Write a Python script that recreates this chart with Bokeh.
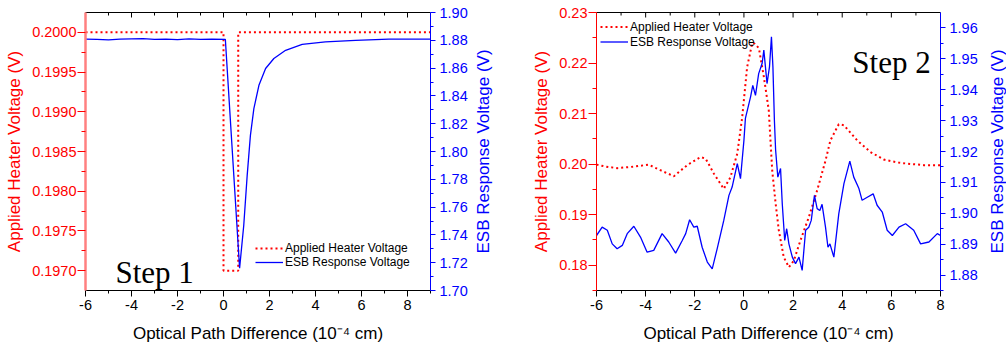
import math
from bokeh.plotting import figure
from bokeh.models import (Range1d, LinearAxis, FixedTicker, PrintfTickFormatter,
                          Legend, LegendItem, Label)
from bokeh.layouts import row
from bokeh.embed import file_html
from bokeh.resources import INLINE

# ---------------- data ----------------
# Step 1
s1_heater_x = [-6.0, 0.0, 0.0, 0.64, 0.64, 9.0]
s1_heater_v = [0.2000, 0.2000, 0.1970, 0.1970, 0.2000, 0.2000]
s1_esb_x = [-6.0, -5.5, -5.0, -4.5, -4.0, -3.5, -3.0, -2.5, -2.0, -1.5, -1.0, -0.5, 0.08,
            0.70, 0.88, 1.03, 1.17, 1.32, 1.54, 1.83, 2.19, 2.70, 3.42, 4.43, 5.74, 7.19, 9.0]
s1_esb_v = [1.8808, 1.8806, 1.8803, 1.8808, 1.8810, 1.8812, 1.8806, 1.8808, 1.8805, 1.8810, 1.8806, 1.8808, 1.8807,
            1.7160, 1.7468, 1.7828, 1.8116, 1.8309, 1.8476, 1.8597, 1.8669, 1.8728, 1.8770, 1.8788, 1.8800, 1.8808, 1.8808]

# Step 2
s2_heater_x = [-6.0, -5.6, -5.16, -4.5, -3.88, -3.4, -2.85, -2.31, -1.77, -1.56, -1.22, -0.82, -0.55, -0.27,
               -0.07, 0.13, 0.34, 0.45, 0.61, 0.81, 1.01, 1.15, 1.29, 1.42, 1.62, 1.83, 2.03, 2.30, 2.64,
               2.98, 3.32, 3.52, 3.86, 4.07, 4.61, 5.15, 5.69, 6.30, 6.65, 7.32, 8.0]
s2_heater_v = [0.1999, 0.1995, 0.1992, 0.1995, 0.1999, 0.1988, 0.1976, 0.1998, 0.2014, 0.2011, 0.1981, 0.1951, 0.1974, 0.2021,
               0.2093, 0.2192, 0.2240, 0.2238, 0.2229, 0.2173, 0.2107, 0.1988, 0.1922, 0.1869, 0.1816, 0.1796, 0.1809, 0.1849, 0.1895,
               0.1948, 0.2007, 0.2047, 0.2079, 0.2077, 0.2047, 0.2024, 0.2009, 0.2003, 0.2001, 0.1998, 0.1998]
s2_esb_x = [-6.0, -5.77, -5.56, -5.36, -5.16, -4.95, -4.75, -4.48, -4.21, -3.94, -3.67, -3.33, -3.06, -2.78, -2.51,
            -2.37, -2.21, -2.04, -1.90, -1.70, -1.49, -1.29, -1.09, -0.82, -0.61, -0.48, -0.27, -0.14, 0.0, 0.06,
            0.27, 0.36, 0.47, 0.60, 0.74, 0.81, 0.94, 1.04, 1.12, 1.18, 1.24, 1.29, 1.38, 1.49, 1.56, 1.66, 1.74,
            1.83, 1.97, 2.10, 2.24, 2.37, 2.51, 2.64, 2.74, 2.87, 2.98, 3.09, 3.18, 3.32, 3.42, 3.50, 3.66, 3.86,
            4.07, 4.31, 4.47, 4.68, 4.81, 5.02, 5.26, 5.42, 5.63, 5.83, 6.04, 6.31, 6.58, 6.91, 7.19, 7.53, 7.87, 8.0]
s2_esb_v = [1.8928, 1.8955, 1.8945, 1.8901, 1.8885, 1.8896, 1.8934, 1.8958, 1.8923, 1.8874, 1.8880, 1.8934, 1.8907, 1.8871, 1.8912,
            1.8934, 1.8979, 1.8955, 1.8958, 1.8890, 1.8842, 1.8820, 1.8885, 1.8977, 1.9058, 1.9085, 1.9161, 1.9112, 1.9236, 1.9307,
            1.9377, 1.9414, 1.9382, 1.9452, 1.9485, 1.9528, 1.9420, 1.9474, 1.9571, 1.9474, 1.9301, 1.9204, 1.9117, 1.9145, 1.9031, 1.8912, 1.8950,
            1.8901, 1.8858, 1.8837, 1.8858, 1.8815, 1.8945, 1.8955, 1.8977, 1.9058, 1.9015, 1.9009, 1.9029, 1.8955, 1.8890, 1.8901, 1.8858, 1.8998,
            1.9096, 1.9169, 1.9117, 1.9080, 1.9042, 1.9052, 1.9063, 1.9026, 1.9004, 1.8945, 1.8928, 1.8955, 1.8966, 1.8945, 1.8901, 1.8907, 1.8934, 1.8928]

x_major = [-6, -4, -2, 0, 2, 4, 6, 8]
x_minor = [-5, -3, -1, 1, 3, 5, 7, 9]
s1_left_major = [0.1970, 0.1975, 0.1980, 0.1985, 0.1990, 0.1995, 0.2000]
s1_left_minor = [0.19725, 0.19775, 0.19825, 0.19875, 0.19925, 0.19975]
s1_right_major = [1.70, 1.72, 1.74, 1.76, 1.78, 1.80, 1.82, 1.84, 1.86, 1.88, 1.90]
s1_right_minor = [1.71, 1.73, 1.75, 1.77, 1.79, 1.81, 1.83, 1.85, 1.87, 1.89]
s2_left_major = [0.18, 0.19, 0.20, 0.21, 0.22, 0.23]
s2_left_minor = [0.175, 0.185, 0.195, 0.205, 0.215, 0.225]
s2_right_major = [1.88, 1.89, 1.90, 1.91, 1.92, 1.93, 1.94, 1.95, 1.96]
s2_right_minor = [1.875, 1.885, 1.895, 1.905, 1.915, 1.925, 1.935, 1.945, 1.955]

RED = "#FF0000"
BLUE = "#0000FF"
SANS = "Liberation Sans"
SERIF = "Liberation Serif"
TICK_FS = "14.5px"
LABEL_FS = "17px"
HEIGHT = 347
TOP = 12
BOTTOM = 57
FRAME_H = HEIGHT - TOP - BOTTOM


def style_axis(ax, color, line_color=None, line_width=1, tick_out=7, minor_out=4):
    ax.axis_line_color = line_color or color
    ax.axis_line_width = line_width
    ax.major_tick_line_color = color
    ax.minor_tick_line_color = color
    ax.major_tick_out = tick_out
    ax.major_tick_in = 0
    ax.minor_tick_out = minor_out
    ax.minor_tick_in = 0
    ax.major_label_text_color = color
    ax.major_label_text_font = SANS
    ax.major_label_text_font_size = TICK_FS
    ax.axis_label_text_color = color
    ax.axis_label_text_font = SANS
    ax.axis_label_text_font_size = LABEL_FS
    ax.axis_label_text_font_style = "normal"


def panel(width, bl, br, xr, yr, yr2, lmaj, lmin, lfmt, rmaj, rmin, rfmt,
          hx, hv, ex, ev, left_line_color, left_line_width):
    p = figure(width=width, height=HEIGHT, x_range=Range1d(*xr), y_range=Range1d(*yr),
               output_backend="svg", toolbar_location=None,
               min_border_left=bl, min_border_right=br, min_border_top=TOP, min_border_bottom=BOTTOM,
               outline_line_color=None, background_fill_color="white", border_fill_color="white")
    p.grid.visible = False
    p.extra_y_ranges = {"esb": Range1d(*yr2)}

    xa = p.xaxis[0]
    style_axis(xa, "black", tick_out=6, minor_out=3)
    xa.ticker = FixedTicker(ticks=x_major, minor_ticks=x_minor)
    xa.formatter = PrintfTickFormatter(format="%d")
    xa.axis_label = "Optical Path Difference (10\u207b\u2074 cm)"
    xa.major_label_standoff = 3
    xa.axis_label_standoff = 11

    ya = p.yaxis[0]
    style_axis(ya, RED, line_color=left_line_color, line_width=left_line_width, tick_out=8, minor_out=4)
    ya.ticker = FixedTicker(ticks=lmaj, minor_ticks=lmin)
    ya.formatter = PrintfTickFormatter(format=lfmt)
    ya.axis_label = "Applied Heater Voltage (V)"
    ya.major_label_standoff = 1
    ya.axis_label_standoff = 5

    ra = LinearAxis(y_range_name="esb")
    style_axis(ra, BLUE, tick_out=5, minor_out=3)
    ra.ticker = FixedTicker(ticks=rmaj, minor_ticks=rmin)
    ra.formatter = PrintfTickFormatter(format=rfmt)
    ra.major_label_standoff = 4
    p.add_layout(ra, "right")

    # top frame line (no ticks / labels); inward ticks drawn below
    ta = LinearAxis(ticker=FixedTicker(ticks=[], minor_ticks=[]))
    ta.axis_line_color = "black"
    ta.major_tick_out = 0
    ta.minor_tick_out = 0
    ta.major_label_standoff = 0
    p.add_layout(ta, "above")

    dy = (yr[1] - yr[0]) / FRAME_H
    top_major = [t for t in x_major if xr[0] <= t <= xr[1]]
    top_minor = [t for t in x_minor if xr[0] <= t <= xr[1]]
    p.segment(x0=top_major, y0=[yr[1]] * len(top_major), x1=top_major,
              y1=[yr[1] - 5 * dy] * len(top_major), line_color="black", line_width=1)
    p.segment(x0=top_minor, y0=[yr[1]] * len(top_minor), x1=top_minor,
              y1=[yr[1] - 3 * dy] * len(top_minor), line_color="black", line_width=1)

    r1 = p.line(hx, hv, line_color=RED, line_width=2, line_dash="2 3")
    r2 = p.line(ex, ev, line_color=BLUE, line_width=1.3, y_range_name="esb")
    return p, r1, r2


def title_strip(width, text, standoff):
    """Narrow strip whose left-axis title is the right-hand (blue) axis title,
    so that it reads bottom-to-top like the reference."""
    s = figure(width=width, height=HEIGHT, x_range=Range1d(0, 1), y_range=Range1d(0, 1),
               output_backend="svg", toolbar_location=None,
               min_border_left=width - 1, min_border_right=0, min_border_top=TOP, min_border_bottom=BOTTOM,
               outline_line_color=None, background_fill_color="white", border_fill_color="white")
    s.grid.visible = False
    s.xaxis.visible = False
    ax = s.yaxis[0]
    ax.ticker = FixedTicker(ticks=[], minor_ticks=[])
    ax.axis_line_color = None
    ax.major_tick_out = 0
    ax.minor_tick_out = 0
    ax.major_label_standoff = 0
    ax.axis_label = text
    ax.axis_label_standoff = standoff
    ax.axis_label_text_color = BLUE
    ax.axis_label_text_font = SANS
    ax.axis_label_text_font_size = LABEL_FS
    ax.axis_label_text_font_style = "normal"
    return s


p1, h1, e1 = panel(471, 85, 41, (-6, 9), (0.19675, 0.20025), (1.70, 1.90),
                   s1_left_major, s1_left_minor, "%.4f", s1_right_major, s1_right_minor, "%.2f",
                   s1_heater_x, s1_heater_v, s1_esb_x, s1_esb_v, "#FF8080", 2.5)
p2, h2, e2 = panel(490, 101, 45, (-6, 8), (0.175, 0.23), (1.875, 1.965),
                   s2_left_major, s2_left_minor, "%.2f", s2_right_major, s2_right_minor, "%.2f",
                   s2_heater_x, s2_heater_v, s2_esb_x, s2_esb_v, RED, 1)
t1 = title_strip(24, "ESB Response Voltage (V)", 3)
t2 = title_strip(21, "ESB Response Voltage (V)", 0)


def add_legend(p, h, e, loc, row_h):
    lg = Legend(items=[LegendItem(label="Applied Heater Voltage", renderers=[h]),
                       LegendItem(label="ESB Response Voltage", renderers=[e])],
                location=loc, border_line_color=None, background_fill_alpha=0,
                padding=0, margin=0, spacing=0, glyph_width=28, glyph_height=row_h,
                label_height=row_h, label_standoff=2, label_text_font=SANS,
                label_text_font_size="12px", label_text_color="black")
    p.add_layout(lg)


add_legend(p1, h1, e1, (170, 21), 12)
add_legend(p2, h2, e2, (4, 241), 15)

p1.add_layout(Label(x=-4.7, y=0.19698, text="Step 1", text_font=SERIF, text_font_size="31px",
                    text_baseline="alphabetic", text_color="black"))
p2.add_layout(Label(x=4.41, y=0.2202, text="Step 2", text_font=SERIF, text_font_size="31px",
                    text_baseline="alphabetic", text_color="black"))

layout = row(p1, t1, p2, t2, spacing=0)
open("out.html", "w").write(file_html(layout, INLINE))
